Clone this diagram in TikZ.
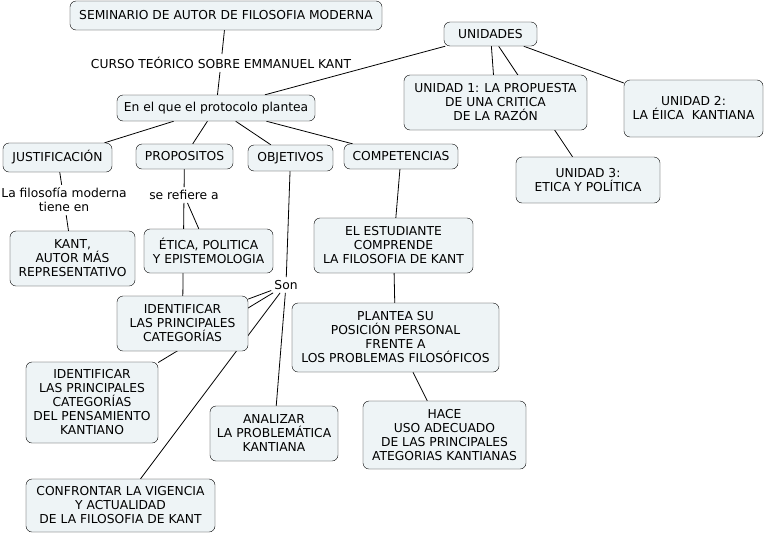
\documentclass[tikz,border=0pt]{standalone}
\usepackage{fontspec}
\setmainfont{DejaVu Sans}
\usetikzlibrary{backgrounds}
\definecolor{cmapfill}{RGB}{238,244,246}

\begin{document}
\begin{tikzpicture}[
    x=1pt, y=-1pt,
    box/.style={draw, rounded corners=6pt, align=center, fill=cmapfill, font=\fontsize{12.3}{14}\selectfont, inner sep=2pt},
    lbl/.style={align=center, font=\fontsize{12.3}{14}\selectfont, inner sep=3pt},
    con/.style={draw, line width=0.8pt}
]
\useasboundingbox (0,0) rectangle (767,536);
% concepts
\node[box, minimum width=312, minimum height=29] (sem) at (226,15.5) {SEMINARIO DE AUTOR DE FILOSOFIA MODERNA};
\node[box, minimum width=198, minimum height=26] (plan) at (216,108) {En el que el protocolo plantea};
\node[box, minimum width=93, minimum height=24] (unid) at (490.5,34) {UNIDADES};
\node[box, minimum width=183, minimum height=55] (u1) at (495.5,102.5) {UNIDAD 1: LA PROPUESTA\\DE UNA CRITICA\\DE LA RAZÓN};
\node[box, minimum width=139, minimum height=57] (u2) at (693.5,108.5) {UNIDAD 2:\\LA ÉIICA\ \ KANTIANA};
\node[box, minimum width=144, minimum height=46] (u3) at (588,180) {UNIDAD 3:\\ETICA Y POLÍTICA};
\node[box, minimum width=109, minimum height=29] (just) at (57.5,157.5) {JUSTIFICACIÓN};
\node[box, minimum width=97, minimum height=25] (prop) at (184.5,156.5) {PROPOSITOS};
\node[box, minimum width=85, minimum height=26] (obj) at (290.5,158) {OBJETIVOS};
\node[box, minimum width=114, minimum height=25] (comp) at (401,156.5) {COMPETENCIAS};
\node[box, minimum width=125, minimum height=55] (kant) at (72.5,258.5) {KANT,\\AUTOR MÁS\\REPRESENTATIVO};
\node[box, minimum width=129, minimum height=44] (etica) at (208.5,251) {ÉTICA, POLITICA\\Y EPISTEMOLOGIA};
\node[box, minimum width=131, minimum height=55] (ident) at (182.5,323.5) {IDENTIFICAR\\LAS PRINCIPALES\\CATEGORÍAS};
\node[box, minimum width=132, minimum height=81] (ident2) at (92,402.5) {IDENTIFICAR\\LAS PRINCIPALES\\CATEGORÍAS\\DEL PENSAMIENTO\\KANTIANO};
\node[box, minimum width=128, minimum height=55] (anal) at (274,433.5) {ANALIZAR\\LA PROBLEMÁTICA\\KANTIANA};
\node[box, minimum width=189, minimum height=53] (confr) at (120.5,505.5) {CONFRONTAR LA VIGENCIA\\Y ACTUALIDAD\\DE LA FILOSOFIA DE KANT};
\node[box, minimum width=159, minimum height=55] (estud) at (393.5,245.5) {EL ESTUDIANTE\\COMPRENDE\\LA FILOSOFIA DE KANT};
\node[box, minimum width=207, minimum height=69] (posic) at (395.5,337.5) {PLANTEA SU\\POSICIÓN PERSONAL\\FRENTE A\\LOS PROBLEMAS FILOSÓFICOS};
\node[box, minimum width=163, minimum height=68] (hace) at (444.5,435) {HACE\\USO ADECUADO\\DE LAS PRINCIPALES\\ATEGORIAS KANTIANAS};
% linking phrases
\node[lbl] (curso) at (221,63) {CURSO TEÓRICO SOBRE EMMANUEL KANT};
\node[lbl] (tiene) at (64,200) {La filosofía moderna\\tiene en};
\node[lbl] (refiere) at (184,195) {se refiere a};
\node[lbl] (son) at (286,285) {Son};

\begin{scope}[on background layer]
\draw[con] (sem) -- (curso);
\draw[con] (curso) -- (plan);
\draw[con] (unid) -- (plan);
\draw[con] (unid) -- (u1);
\draw[con] (unid) -- (u3);
\draw[con] (unid) -- (u2);
\draw[con] (plan) -- (just);
\draw[con] (plan) -- (prop);
\draw[con] (plan) -- (obj);
\draw[con] (plan) -- (comp);
\draw[con] (just) -- (tiene);
\draw[con] (tiene) -- (kant);
\draw[con] (prop) -- (refiere);
\draw[con] (refiere) -- (etica);
\draw[con] (refiere) -- (ident);
\draw[con] (obj) -- (son);
\draw[con] (son) -- (ident);
\draw[con] (son) -- (ident2);
\draw[con] (son) -- (confr);
\draw[con] (son) -- (anal);
\draw[con] (comp) -- (estud);
\draw[con] (estud) -- (posic);
\draw[con] (posic) -- (hace);
\end{scope}
\end{tikzpicture}
\end{document}
